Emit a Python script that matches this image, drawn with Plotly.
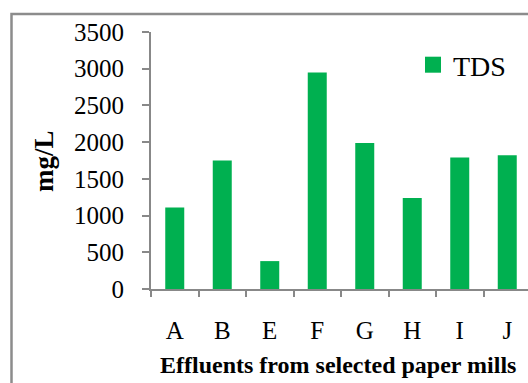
import plotly.graph_objects as go

# Total dissolved solids in paper-mill effluents
mills = ["A", "B", "E", "F", "G", "H", "I", "J"]
tds = [1110, 1750, 380, 2950, 1990, 1240, 1790, 1820]
y_ticks = [0, 500, 1000, 1500, 2000, 2500, 3000, 3500]

GREEN = "#00B050"
AXIS = "#888888"
SERIF = "Liberation Serif, Times New Roman, serif"

W, H = 528, 383
L, R, T, B = 151, 0, 32, 94
pw, ph = W - L - R, H - T - B


def px_x(p):
    return (p - L) / pw


def px_y(p):
    return (H - B - p) / ph


fig = go.Figure()
fig.add_trace(go.Bar(x=mills, y=tds, marker=dict(color=GREEN, line=dict(width=0)),
                     showlegend=False, name="TDS"))
# legend entry with a larger square swatch
fig.add_trace(go.Scatter(x=[None], y=[None], mode="markers", name="TDS",
                         marker=dict(symbol="square", size=16, color=GREEN)))

fig.update_layout(
    width=W, height=H,
    margin=dict(l=L, r=R, t=T, b=B, pad=0),
    paper_bgcolor="white", plot_bgcolor="white",
    bargap=0.6,
    font=dict(family=SERIF, color="black"),
    legend=dict(x=px_x(413), y=px_y(40), xanchor="left", yanchor="top",
                font=dict(size=28, family=SERIF), bgcolor="rgba(0,0,0,0)",
                itemwidth=30, tracegroupgap=0),
    xaxis=dict(
        type="category", range=[-0.5, 7.5 - 3 / 47.5],
        showline=True, linecolor=AXIS, linewidth=2,
        ticks="outside", tickson="boundaries", ticklen=6, tickcolor=AXIS, tickwidth=2,
        tickfont=dict(size=25, family=SERIF), ticklabelstandoff=18,
        showgrid=False, zeroline=False,
    ),
    yaxis=dict(
        range=[0, 3500], tickvals=y_ticks,
        showline=True, linecolor=AXIS, linewidth=2,
        ticks="outside", ticklen=7, tickcolor=AXIS, tickwidth=2,
        tickfont=dict(size=25, family=SERIF), ticklabelstandoff=13,
        showgrid=False, zeroline=False,
    ),
    annotations=[
        dict(text="<b>mg/L</b>", xref="paper", yref="paper", x=px_x(44), y=px_y(161),
             xanchor="center", yanchor="middle", textangle=-90, showarrow=False,
             font=dict(size=27, family=SERIF, color="black")),
        dict(text="<b>Effluents from selected paper mills</b>", xref="paper", yref="paper",
             x=px_x(337.5), y=px_y(365), xanchor="center", yanchor="middle", showarrow=False,
             font=dict(size=24, family=SERIF, color="black")),
    ],
    shapes=[
        dict(type="rect", xref="paper", yref="paper", x0=px_x(11.5), y0=px_y(420),
             x1=px_x(560), y1=px_y(14), line=dict(color="#8c8c8c", width=2.5),
             fillcolor="rgba(0,0,0,0)", layer="below"),
    ],
)

fig.write_html("out.html")
